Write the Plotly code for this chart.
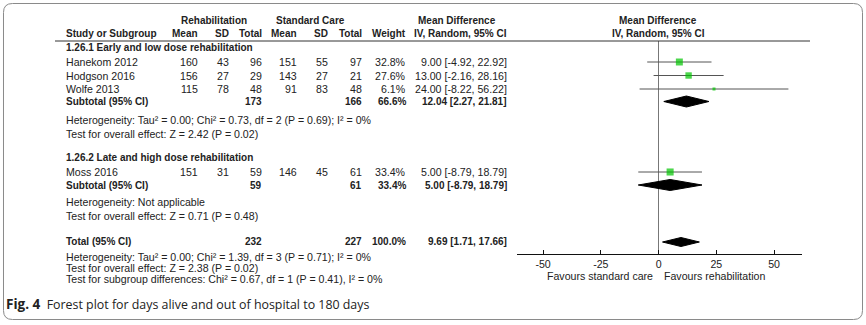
import plotly.graph_objects as go

W, H = 866, 325

# ---- study-level data ----
studies = ["Hanekom 2012", "Hodgson 2016", "Wolfe 2013", "Moss 2016"]
rehab_mean = [160, 156, 115, 151]
rehab_sd = [43, 27, 78, 31]
rehab_n = [96, 29, 48, 59]
std_mean = [151, 143, 91, 146]
std_sd = [55, 27, 83, 45]
std_n = [97, 21, 48, 61]
weight = [32.8, 27.6, 6.1, 33.4]
md = [9.00, 13.00, 24.00, 5.00]
ci_lo = [-4.92, -2.16, -8.22, -8.79]
ci_hi = [22.92, 28.16, 56.22, 18.79]

# ---- subgroup pooled estimates ----
subgroups = ["1.26.1 Early and low dose rehabilitation",
             "1.26.2 Late and high dose rehabilitation"]
sub_rehab_n = [173, 59]
sub_std_n = [166, 61]
sub_weight = [66.6, 33.4]
sub_md = [12.04, 5.00]
sub_lo = [2.27, -8.79]
sub_hi = [21.81, 18.79]
sub_het = ["Heterogeneity: Tau² = 0.00; Chi² = 0.73, df = 2 (P = 0.69); I² = 0%",
           "Heterogeneity: Not applicable"]
sub_test = ["Test for overall effect: Z = 2.42 (P = 0.02)",
            "Test for overall effect: Z = 0.71 (P = 0.48)"]

# ---- overall pooled estimate ----
total_rehab_n = 232
total_std_n = 227
total_weight = 100.0
total_md = 9.69
total_lo = 1.71
total_hi = 17.66
total_notes = ["Heterogeneity: Tau² = 0.00; Chi² = 1.39, df = 3 (P = 0.71); I² = 0%",
               "Test for overall effect: Z = 2.38 (P = 0.02)",
               "Test for subgroup differences: Chi² = 0.67, df = 1 (P = 0.41), I² = 0%"]

x_ticks = [-50, -25, 0, 25, 50]
favours = ["Favours standard care", "Favours rehabilitation"]
caption_label = "Fig. 4"
caption_text = "Forest plot for days alive and out of hospital to 180 days"

# ---- layout (pixel rows / columns) ----
study_rows = [62, 75.5, 89, 172]
sub_title_rows = [48, 157]
sub_rows = [101.5, 185]
sub_het_rows = [120, 202]
sub_test_rows = [134, 216]
total_row = 242
total_note_rows = [256.5, 268, 279]
AXIS_Y, HEAD_Y = 254, 41

COL_NAME = 65
COL_RM, COL_RSD, COL_RN = 199, 230, 263
COL_SM, COL_SSD, COL_SN = 298, 329, 363
COL_W, COL_CI = 407, 508

TXT = "#222222"
FONT = "Liberation Sans, Arial, sans-serif"
REG, BOLD = 10.6, 10.0

ann = []


def txt(x, y, s, anchor="left", bold=False, size=None, family=FONT):
    fs = size if size is not None else (BOLD if bold else REG)
    ann.append(dict(x=x / W, y=1 - y / H, xref="paper", yref="paper",
                    text=f"<b>{s}</b>" if bold else s, showarrow=False,
                    xanchor=anchor, yanchor="middle", borderpad=0,
                    font=dict(family=family, size=fs, color=TXT)))


def ci_str(m, lo, hi):
    return f"{m:.2f} [{lo:.2f}, {hi:.2f}]"


# header rows
txt(214, 20, "Rehabilitation", "center", True)
txt(310, 20, "Standard Care", "center", True)
txt(457, 20, "Mean Difference", "center", True)
txt(658, 20, "Mean Difference", "center", True)
txt(COL_NAME, 34, "Study or Subgroup", bold=True)
for x, s in [(COL_RM, "Mean"), (COL_RSD, "SD"), (COL_RN, "Total"),
             (COL_SM, "Mean"), (COL_SSD, "SD"), (COL_SN, "Total"),
             (COL_W, "Weight"), (COL_CI, "IV, Random, 95% CI")]:
    txt(x, 34, s, "right", True)
txt(658, 34, "IV, Random, 95% CI", "center", True)

# study rows
for i, name in enumerate(studies):
    y = study_rows[i]
    txt(COL_NAME, y, name)
    txt(COL_RM, y, str(rehab_mean[i]), "right")
    txt(COL_RSD, y, str(rehab_sd[i]), "right")
    txt(COL_RN, y, str(rehab_n[i]), "right")
    txt(COL_SM, y, str(std_mean[i]), "right")
    txt(COL_SSD, y, str(std_sd[i]), "right")
    txt(COL_SN, y, str(std_n[i]), "right")
    txt(COL_W, y, f"{weight[i]:.1f}%", "right")
    txt(COL_CI, y, ci_str(md[i], ci_lo[i], ci_hi[i]), "right")

# subgroup rows
for g, title in enumerate(subgroups):
    txt(COL_NAME, sub_title_rows[g], title, bold=True)
    y = sub_rows[g]
    txt(COL_NAME, y, "Subtotal (95% CI)", bold=True)
    txt(COL_RN, y, str(sub_rehab_n[g]), "right", True)
    txt(COL_SN, y, str(sub_std_n[g]), "right", True)
    txt(COL_W, y, f"{sub_weight[g]:.1f}%", "right", True)
    txt(COL_CI, y, ci_str(sub_md[g], sub_lo[g], sub_hi[g]), "right", True)
    txt(COL_NAME, sub_het_rows[g], sub_het[g])
    txt(COL_NAME, sub_test_rows[g], sub_test[g])

# total rows
txt(COL_NAME, total_row, "Total (95% CI)", bold=True)
txt(COL_RN, total_row, str(total_rehab_n), "right", True)
txt(COL_SN, total_row, str(total_std_n), "right", True)
txt(COL_W, total_row, f"{total_weight:.1f}%", "right", True)
txt(COL_CI, total_row, ci_str(total_md, total_lo, total_hi), "right", True)
for y, s in zip(total_note_rows, total_notes):
    txt(COL_NAME, y, s)

# favours labels under the axis
txt(654, 276, favours[0], "right")
txt(663, 276, favours[1], "left")

# caption
ann.append(dict(x=5 / W, y=1 - 304 / H, xref="paper", yref="paper",
                text=(f"<b><span style='font-size:13.5px'>{caption_label}</span></b>"
                      f"  {caption_text}"),
                showarrow=False, xanchor="left", yanchor="middle", borderpad=0,
                font=dict(family="Open Sans, sans-serif", size=12.4, color=TXT)))

fig = go.Figure()

# individual study estimates: green squares sized by weight, grey CI lines
fig.add_trace(go.Scatter(
    x=md, y=study_rows, mode="markers",
    marker=dict(symbol="square", color="#00c400",
                size=[1.22 * w ** 0.5 for w in weight], line=dict(width=0)),
    error_x=dict(type="data", symmetric=False,
                 array=[h - m for h, m in zip(ci_hi, md)],
                 arrayminus=[m - l for m, l in zip(md, ci_lo)],
                 color="#555555", thickness=1, width=0),
    hoverinfo="skip", showlegend=False))


def diamond(m, lo, hi, y, half):
    fig.add_trace(go.Scatter(
        x=[lo, m, hi, m, lo], y=[y, y - half, y, y + half, y],
        mode="lines", fill="toself", fillcolor="black",
        line=dict(color="black", width=1), hoverinfo="skip", showlegend=False))


for g in range(len(subgroups)):
    diamond(sub_md[g], sub_lo[g], sub_hi[g], sub_rows[g], 5.5)
diamond(total_md, total_lo, total_hi, total_row, 4.5)

shapes = [
    # header rule
    dict(type="line", xref="paper", yref="paper", x0=55 / W, x1=810 / W,
         y0=1 - HEAD_Y / H, y1=1 - HEAD_Y / H, line=dict(color="#333333", width=1)),
]

# rounded outer frame
x0, x1, y0, y1, r = 3.5, 862.5, 3.5, 319.5, 9


def P(x, y):
    return f"{x / W:.5f},{1 - y / H:.5f}"


path = (f"M {P(x0 + r, y0)} L {P(x1 - r, y0)} Q {P(x1, y0)} {P(x1, y0 + r)} "
        f"L {P(x1, y1 - r)} Q {P(x1, y1)} {P(x1 - r, y1)} "
        f"L {P(x0 + r, y1)} Q {P(x0, y1)} {P(x0, y1 - r)} "
        f"L {P(x0, y0 + r)} Q {P(x0, y0)} {P(x0 + r, y0)} Z")
shapes.append(dict(type="path", xref="paper", yref="paper", path=path,
                   line=dict(color="#8a8a8a", width=1)))

fig.update_layout(
    width=W, height=H, margin=dict(l=0, r=0, t=0, b=0),
    paper_bgcolor="white", plot_bgcolor="rgba(0,0,0,0)",
    annotations=ann, shapes=shapes, showlegend=False,
    xaxis=dict(domain=[517 / W, 802 / W], range=[-61.3, 62.1],
               tickvals=x_ticks, ticktext=[str(t) for t in x_ticks],
               showline=True, linecolor="#111111", linewidth=1,
               ticks="inside", ticklen=4, tickcolor="#111111", tickwidth=1,
               showgrid=False, zeroline=True, zerolinecolor="#777777",
               zerolinewidth=1, anchor="y", fixedrange=True,
               tickfont=dict(family=FONT, size=REG, color=TXT)),
    yaxis=dict(domain=[1 - AXIS_Y / H, 1 - HEAD_Y / H], range=[AXIS_Y, HEAD_Y],
               visible=False, fixedrange=True),
)

fig.write_html("out.html")
